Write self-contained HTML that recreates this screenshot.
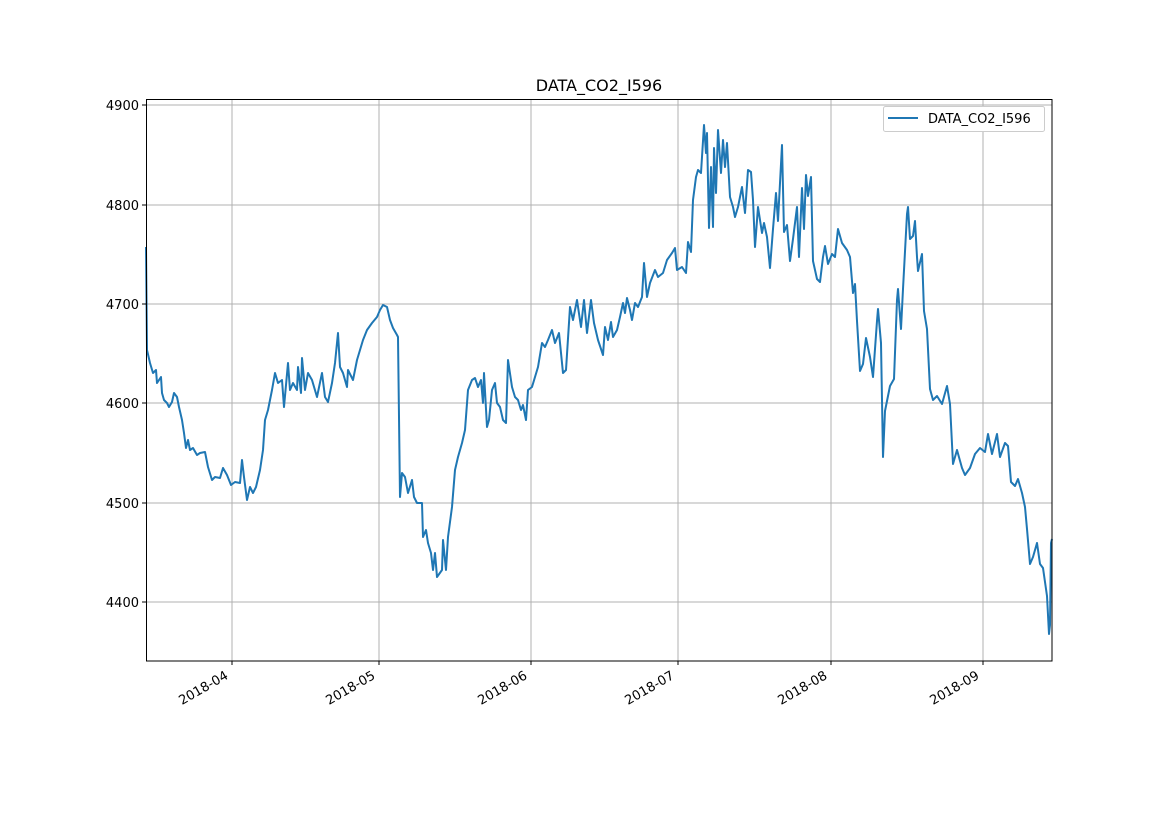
<!DOCTYPE html>
<html><head><meta charset="utf-8"><style>
body{margin:0;background:#fff}
svg{display:block;font-family:"DejaVu Sans","Liberation Sans",sans-serif}
</style></head><body>
<svg id="s" width="1169" height="827" viewBox="0 0 1169 827" xmlns="http://www.w3.org/2000/svg">
<rect width="1169" height="827" fill="#fff"/>
<g stroke="#b0b0b0" stroke-width="1">
<line x1="232" y1="99" x2="232" y2="661"/><line x1="379" y1="99" x2="379" y2="661"/><line x1="531" y1="99" x2="531" y2="661"/><line x1="678" y1="99" x2="678" y2="661"/><line x1="831" y1="99" x2="831" y2="661"/><line x1="983" y1="99" x2="983" y2="661"/>
<line x1="146" y1="105" x2="1052" y2="105"/><line x1="146" y1="205" x2="1052" y2="205"/><line x1="146" y1="304" x2="1052" y2="304"/><line x1="146" y1="403" x2="1052" y2="403"/><line x1="146" y1="503" x2="1052" y2="503"/><line x1="146" y1="602" x2="1052" y2="602"/>
</g>
<polyline id="ln" fill="none" stroke="#1f77b4" stroke-width="2" stroke-linejoin="round" points=""/>
<rect x="146.5" y="99.5" width="905.5" height="561.5" fill="none" stroke="#000" stroke-width="1"/>
<g stroke="#000"><line x1="142" y1="105" x2="146" y2="105"/><line x1="142" y1="205" x2="146" y2="205"/><line x1="142" y1="304" x2="146" y2="304"/><line x1="142" y1="403" x2="146" y2="403"/><line x1="142" y1="503" x2="146" y2="503"/><line x1="142" y1="602" x2="146" y2="602"/>
<line x1="232" y1="661" x2="232" y2="665"/><line x1="379" y1="661" x2="379" y2="665"/><line x1="531" y1="661" x2="531" y2="665"/><line x1="678" y1="661" x2="678" y2="665"/><line x1="831" y1="661" x2="831" y2="665"/><line x1="983" y1="661" x2="983" y2="665"/></g>
<g font-size="13" text-anchor="end" fill="#000">
<text x="139" y="110">4900</text><text x="139" y="210">4800</text><text x="139" y="309">4700</text><text x="139" y="408">4600</text><text x="139" y="508">4500</text><text x="139" y="607">4400</text>
<text transform="translate(229,678) rotate(-30)">2018-04</text><text transform="translate(376,678) rotate(-30)">2018-05</text><text transform="translate(528,678) rotate(-30)">2018-06</text><text transform="translate(675,678) rotate(-30)">2018-07</text><text transform="translate(828,678) rotate(-30)">2018-08</text><text transform="translate(980,678) rotate(-30)">2018-09</text>
</g>
<text x="599" y="91" font-size="16" text-anchor="middle">DATA_CO2_I596</text>
<rect x="883.5" y="106.5" width="161" height="25" rx="2" fill="#fff" stroke="#ccc"/>
<line x1="888" y1="118" x2="918" y2="118" stroke="#1f77b4" stroke-width="2"/>
<text x="928" y="123" font-size="13">DATA_CO2_I596</text>
</svg>
<script>
var L=[146,247,147,350,150,363,153,373,156,370,157,383,161,377,162,393,164,400,167,403,169,407,172,402,174,393,177,397,179,407,182,420,184,433,186,448,188,440,190,450,193,448,197,455,200,453,205,452,208,467,212,480,215,477,220,478,223,468,227,475,231,485,235,482,240,483,242,460,244,477,247,500,250,487,253,493,256,487,260,470,263,450,265,420,268,410,272,390,275,373,278,383,282,380,284,407,288,363,290,390,293,383,297,390,298,367,301,393,302,358,305,390,308,373,312,380,317,397,322,373,325,397,328,402,332,383,335,363,338,333,340,367,343,373,347,387,348,370,353,380,357,360,360,350,363,340,367,330,372,323,377,317,380,310,383,305,387,307,390,320,393,328,397,335,398,337,400,497,402,473,405,477,408,493,412,480,414,497,417,503,422,503,423,537,426,530,428,543,431,553,433,570,435,553,437,577,442,570,443,540,446,570,448,537,452,507,455,470,458,457,462,443,465,430,468,390,472,380,475,378,478,387,481,380,483,403,484,373,487,427,489,420,492,390,495,383,497,403,500,407,503,420,506,423,508,360,512,387,515,397,518,400,521,410,523,405,526,420,528,390,532,387,535,377,538,367,542,343,545,347,548,340,552,330,555,343,559,333,563,373,566,370,570,307,573,320,577,300,581,327,584,300,587,333,591,300,594,323,598,340,
603,355,605,327,608,340,611,322,613,337,617,330,620,317,623,303,625,313,627,298,630,310,632,320,635,303,638,307,642,297,644,263,647,297,650,283,655,270,658,277,663,273,667,260,672,253,675,248,677,270,682,267,686,273,688,242,691,252,693,200,696,177,698,170,701,173,704,125,706,153,707,133,709,228,711,167,713,227,714,148,716,193,718,130,721,173,723,140,725,167,727,143,730,197,733,207,735,217,738,207,742,187,745,213,748,170,751,172,753,200,755,247,758,207,762,233,764,223,767,237,770,268,
773,229,776,193,778,221,782,145,784,232,787,225,790,261,793,239,797,207,799,257,802,188,804,229,806,175,808,196,811,177,813,261,817,279,820,282,823,257,825,246,828,264,832,254,835,257,838,229,842,243,847,250,850,257,853,293,855,284,857,321,860,371,863,364,866,338,870,357,873,377,877,321,878,309,881,343,883,457,885,411,890,386,894,379,897,300,898,289,901,329,903,289,907,214,908,207,910,239,913,236,915,221,917,257,918,271,922,254,924,311,927,329,930,389,933,400,937,396,942,404,947,386,950,404,953,464,957,450,962,468,965,475,970,468,975,454,980,448,985,452,988,434,992,454,997,434,1000,457,1005,443,1008,446,1011,482,1015,486,1018,479,1022,493,1025,507,1027,529,1030,564,1033,557,1037,543,1040,564,1043,568,1047,596,1049,634,1050,625,1051,543,1052,539];
var p=[];for(var i=0;i<L.length;i+=2)p.push(L[i]+','+L[i+1]);
document.getElementById('ln').setAttribute('points',p.join(' '));
</script>
</body></html>
